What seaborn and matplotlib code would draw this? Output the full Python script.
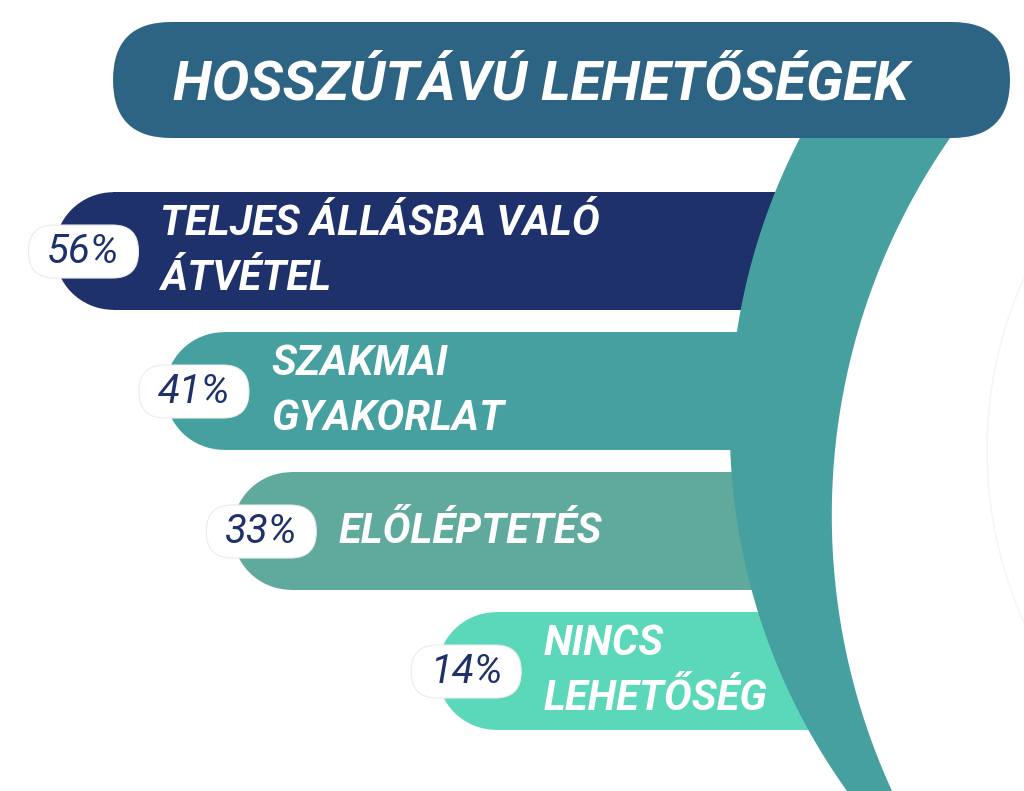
import numpy as np
import matplotlib.pyplot as plt
import seaborn as sns
from matplotlib.patches import FancyBboxPatch, Polygon, Circle, Arc

title = 'HOSSZÚTÁVÚ LEHETŐSÉGEK'
categories = ['TELJES ÁLLÁSBA VALÓ\nÁTVÉTEL', 'SZAKMAI\nGYAKORLAT', 'ELŐLÉPTETÉS', 'NINCS\nLEHETŐSÉG']
values = [56, 41, 33, 14]
colors = ['#1f316b', '#46a0a0', '#5faa9d', '#5ad8b9']
navy = '#1f316b'
title_bg = '#2e6483'

sns.set_theme(style='white')
plt.rcParams['font.family'] = ['Roboto', 'DejaVu Sans']

W, H = 1024, 791
fig = plt.figure(figsize=(W / 100, H / 100), dpi=100)

# bars layer: bars grow leftwards from the curved band, signed sqrt scale
ax = fig.add_axes([0, 0, 1, 1])
sns.barplot(x=values, y=categories, hue=categories, palette=colors, orient='h',
            width=0.84, legend=False, saturation=1, ax=ax)
ax.set_xscale('function', functions=(lambda x: np.sign(x) * np.sqrt(np.abs(x)),
                                     lambda y: np.sign(y) * y ** 2))
ax.set_xlim(64.25, -3.98)
ax.set_ylim(3.857, -1.793)
ax.axis('off')

# overlay in pixel coordinates
deco = fig.add_axes([0, 0, 1, 1], zorder=2)
deco.set_xlim(0, W)
deco.set_ylim(H, 0)
deco.axis('off')
deco.patch.set_alpha(0)

# curved band
ys = np.linspace(110, 800, 200)
left_x = 1356.4 - np.sqrt(626.6 ** 2 - (ys - 426.1) ** 2)
right_x = 1492.9 - np.sqrt(661.1 ** 2 - (ys - 515.3) ** 2)
pts = np.vstack([np.column_stack([left_x, ys]), np.column_stack([right_x[::-1], ys[::-1]])])
deco.add_patch(Polygon(pts, closed=True, fc='#46a0a0', ec='none', zorder=1))
deco.add_patch(Arc((1407, 450), 840, 840, theta1=140, theta2=215, color='#f6f6f6', lw=1.2, zorder=0))

# title pill
deco.add_patch(FancyBboxPatch((113, 22), 897, 116, boxstyle='round,pad=0,rounding_size=58',
                              fc=title_bg, ec='none', zorder=3))
deco.text(541, 85, title, color='white', fontsize=40.5, fontweight='bold', fontstyle='italic',
          ha='center', va='center', zorder=4)

r = 0.84 * 140 / 2
for i, (bar, val, lab, col) in enumerate(zip(ax.patches, values, categories, colors)):
    dx, dy = ax.transData.transform((val, i))
    px, py = dx, H - dy
    # square part of the bar starts after the rounded cap
    x_in = ax.transData.inverted().transform((px + r, dy))[0]
    bar.set_x(0)
    bar.set_width(x_in)
    bar.set_edgecolor('none')
    deco.add_patch(Circle((px + r, py), r, fc=col, ec='none', zorder=2))
    pl = px - 26
    deco.add_patch(FancyBboxPatch((pl, py - 26), 110, 53, boxstyle='round,pad=0,rounding_size=26',
                                  fc='white', ec='#ececec', lw=0.8, zorder=5))
    deco.text(pl + 55, py + 1, f'{val}%', color=navy, fontsize=29, fontstyle='italic',
              fontweight='normal', ha='center', va='center', zorder=6)
    deco.text(px + 106, py, lab, color='white', fontsize=30, fontweight='bold', fontstyle='italic',
              ha='left', va='center', linespacing=1.45, zorder=6)

fig.savefig('out.png', dpi=100)
